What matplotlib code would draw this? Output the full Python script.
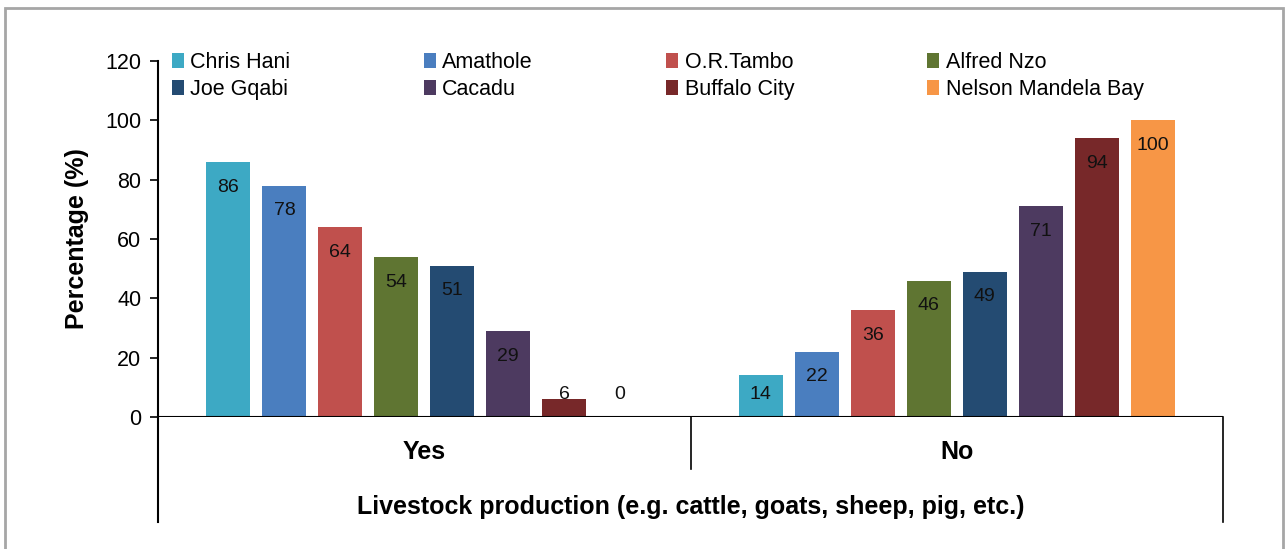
import numpy as np
import matplotlib.pyplot as plt
from matplotlib.patches import Rectangle

# Data
groups = ["Yes", "No"]
districts = ["Chris Hani", "Amathole", "O.R.Tambo", "Alfred Nzo",
             "Joe Gqabi", "Cacadu", "Buffalo City", "Nelson Mandela Bay"]
yes_vals = [86, 78, 64, 54, 51, 29, 6, 0]
no_vals = [14, 22, 36, 46, 49, 71, 94, 100]
colors = ["#3DA9C4", "#4A7EBF", "#C0504D", "#5F7532",
          "#244B72", "#4D3A60", "#772829", "#F79646"]
y_ticks = [0, 20, 40, 60, 80, 100, 120]

plt.rcParams["font.family"] = ["Liberation Sans", "DejaVu Sans"]

fig = plt.figure(figsize=(12.88, 5.49), dpi=100)
ax = fig.add_axes([158 / 1288, 1 - 417 / 549, (1223 - 158) / 1288, (417 - 61) / 549])

# gray frame round the figure
fig.patches.append(Rectangle((5 / 1288, -0.05), (1283 - 5) / 1288, 1.05 - 8 / 549,
                             transform=fig.transFigure, fill=False,
                             edgecolor="#A6A6A6", linewidth=2))

slot = 56 / 533
bar_w = 44 / 533
x = np.arange(len(groups))
handles = []
for i, name in enumerate(districts):
    vals = [yes_vals[i], no_vals[i]]
    pos = x + (i - 3.5) * slot
    h = ax.bar(pos, vals, width=bar_w, color=colors[i], label=name)
    handles.append(h)
    for p, v in zip(pos, vals):
        ax.text(p, max(v - 8.5, 7.7), f"{v}", ha="center", va="center",
                fontsize=14, color="#111111")

ax.set_xlim(-0.5, 1.5)
ax.set_ylim(0, 120)
ax.set_yticks(y_ticks)
ax.tick_params(axis="y", labelsize=15.5, length=6, width=1.2, direction="out", pad=6)
ax.set_xticks([])
for s in ["top", "right", "bottom"]:
    ax.spines[s].set_visible(False)
ax.spines["left"].set_linewidth(1.5)
ax.spines["left"].set_bounds(0, 120)

# axis lines: baseline, extended y axis, group divider, right edge
ax.axhline(0, color="black", linewidth=1.5)
ax.plot([-0.5, -0.5], [0, -35.5], color="black", linewidth=1.5, clip_on=False)
ax.plot([0.5, 0.5], [0, -17.5], color="black", linewidth=1.2, clip_on=False)
ax.plot([1.5, 1.5], [0, -35.5], color="black", linewidth=1.2, clip_on=False)

for xi, g in zip(x, groups):
    ax.text(xi, -11.8, g, ha="center", va="center", fontsize=18, fontweight="bold")
ax.text(0.5, -30.3, "Livestock production (e.g. cattle, goats, sheep, pig, etc.)",
        ha="center", va="center", fontsize=18, fontweight="bold")

ax.set_ylabel("Percentage (%)", fontsize=18, fontweight="bold", labelpad=12)

# legend filled row by row
order = [0, 4, 1, 5, 2, 6, 3, 7]
ax.legend([handles[k] for k in order], [districts[k] for k in order],
          ncol=4, loc="upper left", bbox_to_anchor=(0.005, 1.05),
          frameon=False, fontsize=15.5, handlelength=0.55, handleheight=0.7,
          handletextpad=0.3, columnspacing=6.2, labelspacing=0.3,
          borderaxespad=0)

fig.savefig("out.png", dpi=100)
